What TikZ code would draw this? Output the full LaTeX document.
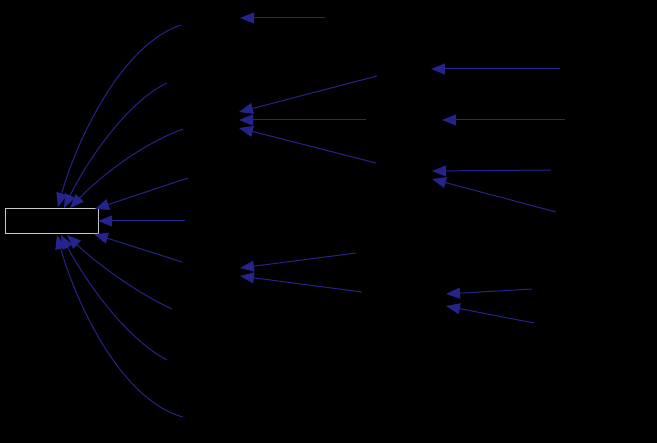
\documentclass[tikz,border=0pt]{standalone}
\usetikzlibrary{arrows.meta}
\definecolor{edgeblue}{RGB}{36,36,140}
\definecolor{boxgrey}{RGB}{200,200,200}
\tikzset{
  edge/.style={draw=edgeblue, line width=1pt, -{Triangle[length=14pt,width=11pt,fill=edgeblue]}},
  rootbox/.style={draw=boxgrey, line width=1pt, minimum width=93pt, minimum height=25pt, inner sep=0pt, fill=black}
}
\begin{document}
\begin{tikzpicture}[x=1pt,y=-1pt]
\fill[black] (0,0) rectangle (657,443);
\useasboundingbox (0,0) rectangle (657,443);
\node[rootbox] (root) at (51.5,221) {};
% tip coordinates on root
\coordinate (t1) at (58,207);
\coordinate (t2) at (64,208);
\coordinate (t3) at (70,208);
\coordinate (t4) at (95,209);
\coordinate (t5) at (98,221);
\coordinate (t6) at (94,234);
\coordinate (t7) at (67,235);
\coordinate (t8) at (61,235);
\coordinate (t9) at (57,235);
% invisible nodes (first column tails)
\coordinate (a1) at (181,25);
\coordinate (a2) at (167,83);
\coordinate (a3) at (183,129);
\coordinate (a4) at (188,178);
\coordinate (a5) at (185,221);
\coordinate (a6) at (182,262);
\coordinate (a7) at (172,309);
\coordinate (a8) at (167,360);
\coordinate (a9) at (183,417);
% second column heads
\coordinate (b1) at (240,18);
\coordinate (b2) at (239,112);
\coordinate (b3) at (239,120);
\coordinate (b4) at (239,128);
\coordinate (b5) at (240,268);
\coordinate (b6) at (240,276);
% second column tails
\coordinate (c1) at (325,18);
\coordinate (c2) at (377,76);
\coordinate (c3) at (366,120);
\coordinate (c4) at (376,163);
\coordinate (c5) at (356,253);
\coordinate (c6) at (362,292);
% third column heads
\coordinate (d1) at (431,69);
\coordinate (d2) at (442,120);
\coordinate (d3) at (432,171);
\coordinate (d4) at (432,179);
\coordinate (d5) at (446,294);
\coordinate (d6) at (446,306);
% third column tails
\coordinate (e1) at (560,69);
\coordinate (e2) at (565,120);
\coordinate (e3) at (551,170);
\coordinate (e4) at (556,212);
\coordinate (e5) at (532,289);
\coordinate (e6) at (534,323);
% fan into root
\draw[edge] (a1) .. controls (120,45) and (75,145) .. (t1);
\draw[edge] (a2) .. controls (125,103) and (85,165) .. (t2);
\draw[edge] (a3) .. controls (135,147) and (95,182) .. (t3);
\draw[edge] (a4) -- (t4);
\draw[edge] (a5) -- (t5);
\draw[edge] (a6) -- (t6);
\draw[edge] (a7) .. controls (135,292) and (95,262) .. (t7);
\draw[edge] (a8) .. controls (125,338) and (85,280) .. (t8);
\draw[edge] (a9) .. controls (120,400) and (75,300) .. (t9);
% second column
\draw[edge] (c1) -- (b1);
\draw[edge] (c2) -- (b2);
\draw[edge] (c3) -- (b3);
\draw[edge] (c4) -- (b4);
\draw[edge] (c5) -- (b5);
\draw[edge] (c6) -- (b6);
% third column
\draw[edge] (e1) -- (d1);
\draw[edge] (e2) -- (d2);
\draw[edge] (e3) -- (d3);
\draw[edge] (e4) -- (d4);
\draw[edge] (e5) -- (d5);
\draw[edge] (e6) -- (d6);
\end{tikzpicture}
\end{document}
